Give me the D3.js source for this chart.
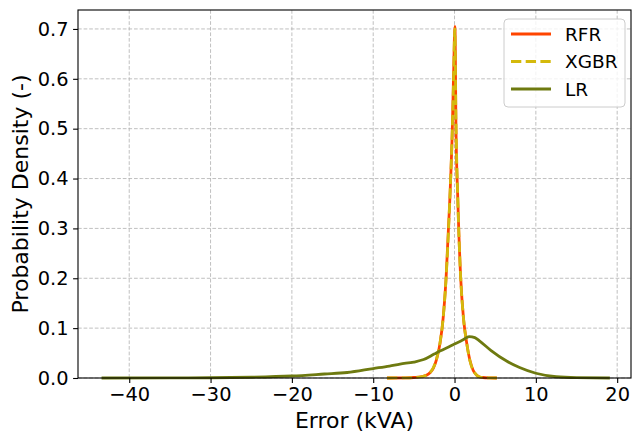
<!DOCTYPE html>
<html>
<head>
<meta charset="utf-8">
<script src="https://cdn.jsdelivr.net/npm/d3@7"></script>
<style>
  html, body { margin: 0; padding: 0; background: #fff; }
  svg { display: block; font-family: "DejaVu Sans", sans-serif; }
</style>
</head>
<body>
<svg id="chart" width="632" height="436"></svg>
<script>
// Kernel density estimates of prediction error for each model
const rfrX = [-8.3, -6, -5, -4, -3.4, -3, -2.6, -2.2, -1.78, -1.4, -1.04, -0.6, -0.27, -0.1, 0.05, 0.18, 0.4, 0.76, 1.1, 1.5, 1.9, 2.3, 2.7, 3.1, 3.5, 4.3, 5.2];
const rfrY = [0, 0.0003, 0.001, 0.003, 0.006, 0.011, 0.02, 0.038, 0.07, 0.12, 0.2, 0.35, 0.5, 0.62, 0.705, 0.5, 0.36, 0.2, 0.12, 0.07, 0.035, 0.015, 0.006, 0.002, 0.001, 0.0003, 0];

const xgbrX = [-8.3, -6, -5, -4, -3.4, -3, -2.6, -2.2, -1.78, -1.4, -1.04, -0.6, -0.27, -0.1, 0.03, 0.18, 0.4, 0.76, 1.1, 1.5, 1.9, 2.3, 2.7, 3.1, 3.5, 4.3, 5.2];
const xgbrY = [0, 0.0003, 0.001, 0.003, 0.006, 0.011, 0.021, 0.039, 0.071, 0.12, 0.2, 0.35, 0.5, 0.61, 0.7, 0.51, 0.36, 0.2, 0.12, 0.07, 0.034, 0.015, 0.006, 0.002, 0.001, 0.0003, 0];

const lrX = [-43.4, -35, -30, -25, -20, -16, -13.2, -10, -8, -6.7, -5, -3.8, -2.5, -1.8, -0.5, 0, 1, 1.8, 2.5, 3.1, 4.5, 6.4, 8, 10, 12.5, 15, 19.1];
const lrY = [0, 0.0002, 0.0005, 0.0015, 0.004, 0.008, 0.011, 0.019, 0.024, 0.028, 0.032, 0.037, 0.048, 0.054, 0.064, 0.068, 0.076, 0.083, 0.081, 0.074, 0.055, 0.034, 0.021, 0.0095, 0.0025, 0.0006, 0];

const xTicks = [-40, -30, -20, -10, 0, 10, 20];
const yTicks = [0, 0.1, 0.2, 0.3, 0.4, 0.5, 0.6, 0.7];

const seriesNames = ["RFR", "XGBR", "LR"];
const seriesColors = ["#ff4500", "#d4b90c", "#6e7a10"];

const svg = d3.select("#chart");
const plotLeft = 78, plotRight = 631, plotTop = 10, plotBottom = 378;

const x = d3.scaleLinear().domain([-46.3, 21.7]).range([plotLeft, plotRight]);
const y = d3.scaleLinear().domain([0, 0.738]).range([plotBottom, plotTop]);

// grid
const grid = svg.append("g");
grid.selectAll("line.gx").data(xTicks).join("line")
  .attr("x1", d => x(d)).attr("x2", d => x(d))
  .attr("y1", plotTop).attr("y2", plotBottom)
  .attr("stroke", "#b0b0b0").attr("stroke-width", 0.8)
  .attr("stroke-dasharray", "3.7,1.9");
grid.selectAll("line.gy").data(yTicks).join("line")
  .attr("x1", plotLeft).attr("x2", plotRight)
  .attr("y1", d => y(d)).attr("y2", d => y(d))
  .attr("stroke", "#b0b0b0").attr("stroke-width", 0.8)
  .attr("stroke-dasharray", "3.7,1.9");

// curves
const line = d3.line().x(d => x(d[0])).y(d => y(d[1])).curve(d3.curveMonotoneX);
const series = [
  { name: "RFR", data: d3.zip(rfrX, rfrY), dash: null },
  { name: "XGBR", data: d3.zip(xgbrX, xgbrY), dash: "10.3,4.4" },
  { name: "LR", data: d3.zip(lrX, lrY), dash: null }
];
series.forEach((s, i) => {
  svg.append("path")
    .attr("d", line(s.data))
    .attr("fill", "none")
    .attr("stroke", seriesColors[i])
    .attr("stroke-width", 2.8)
    .attr("stroke-dasharray", s.dash)
    .attr("stroke-linejoin", "round");
});

// axes
const xAxis = d3.axisBottom(x).tickValues(xTicks).tickSize(4.9).tickPadding(4)
  .tickFormat(d => d < 0 ? "\u2212" + Math.abs(d) : String(d));
const yAxis = d3.axisLeft(y).tickValues(yTicks).tickSize(4.9).tickPadding(4.5)
  .tickFormat(d3.format(".1f"));

const gx = svg.append("g").attr("transform", `translate(0,${plotBottom})`).call(xAxis);
const gy = svg.append("g").attr("transform", `translate(${plotLeft},0)`).call(yAxis);
[gx, gy].forEach(g => {
  g.select(".domain").remove();
  g.selectAll(".tick line").attr("stroke", "#000").attr("stroke-width", 1.1);
  g.selectAll(".tick text").attr("fill", "#000").attr("font-size", 19.4)
    .attr("font-family", "DejaVu Sans");
});

// frame
svg.append("rect")
  .attr("x", plotLeft).attr("y", plotTop)
  .attr("width", plotRight - plotLeft).attr("height", plotBottom - plotTop)
  .attr("fill", "none").attr("stroke", "#000").attr("stroke-width", 1.1);

// axis titles
svg.append("text")
  .attr("x", (plotLeft + plotRight) / 2).attr("y", 428)
  .attr("text-anchor", "middle").attr("font-size", 22)
  .text("Error (kVA)");
svg.append("text")
  .attr("transform", `translate(28,${(plotTop + plotBottom) / 2}) rotate(-90)`)
  .attr("text-anchor", "middle").attr("font-size", 22)
  .text("Probability Density (-)");

// legend
const lg = svg.append("g");
lg.append("rect")
  .attr("x", 504).attr("y", 19).attr("width", 121).attr("height", 88)
  .attr("rx", 4).attr("fill", "#fff").attr("fill-opacity", 0.8)
  .attr("stroke", "#cccccc").attr("stroke-width", 1);
seriesNames.forEach((name, i) => {
  const ly = 34 + i * 27.5;
  lg.append("line")
    .attr("x1", 511).attr("x2", 551).attr("y1", ly).attr("y2", ly)
    .attr("stroke", seriesColors[i]).attr("stroke-width", 2.8)
    .attr("stroke-dasharray", series[i].dash);
  lg.append("text")
    .attr("x", 565).attr("y", ly).attr("dy", "0.36em")
    .attr("font-size", 18.5).text(name);
});
</script>
</body>
</html>
